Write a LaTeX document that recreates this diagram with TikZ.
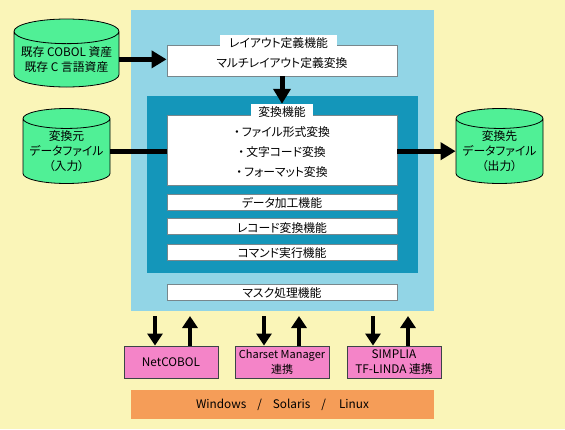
\documentclass[tikz,border=0pt]{standalone}
\usepackage{fontspec}
\setmainfont[RawFeature=+palt]{Noto Sans CJK JP}
\usepackage{tikz}
\usepackage{xcolor}
\usetikzlibrary{arrows.meta,positioning,calc,shapes.geometric}
\definecolor{bgyellow}{RGB}{250,245,184}
\definecolor{outerblue}{RGB}{146,213,230}
\definecolor{innerblue}{RGB}{20,150,186}
\definecolor{cylgreen}{RGB}{80,240,150}
\definecolor{boxpink}{RGB}{244,132,200}
\definecolor{baseorange}{RGB}{245,157,88}
\definecolor{boxedge}{RGB}{120,135,140}
\tikzset{
  txt/.style={font=\fontsize{11.8}{19.6}\selectfont,inner sep=0pt,align=center},
  funcbox/.style={txt,draw=boxedge,line width=0.9pt,fill=white,minimum width=230pt},
  onerow/.style={text height=11pt,text depth=0pt},
  titletag/.style={txt,fill=white},
  datacyl/.style={txt,cylinder,shape border rotate=90,draw=black,line width=0.8pt,fill=cylgreen,aspect=0.27,anchor=shape center},
  pinkbox/.style={txt,draw=boxedge!50!black,line width=0.9pt,fill=boxpink,minimum width=94pt,minimum height=32pt},
  bigarrow/.style={line width=5pt,-{Triangle[length=15pt,width=17pt]}},
  bigline/.style={line width=5pt},
  linkarrow/.style={line width=4pt,-{Triangle[length=12pt,width=15pt]}}
}
\begin{document}
\begin{tikzpicture}[x=1pt,y=-1pt]
\useasboundingbox (0,0) rectangle (565,429);
\fill[bgyellow] (0,0) rectangle (565,429);
\node[fill=outerblue,minimum width=303pt,minimum height=301pt,inner sep=0pt] (outer) at (282.5,160.5) {};
\node[fill=innerblue,minimum width=271pt,minimum height=177pt,inner sep=0pt] (inner) at (282.5,184.5) {};
% upper boxes
\node[funcbox,minimum height=31pt,text height=14pt,text depth=0pt] (layout) at (282,60.5) {マルチレイアウト定義変換};
\node[titletag,minimum width=117pt,minimum height=16pt] (layouttitle) at (278.5,43) {レイアウト定義機能};
\node[funcbox,minimum height=70pt] (convert) at (282,150) {\rule{0pt}{14pt}・\hspace{2pt}ファイル形式変換\\・\hspace{2pt}文字コード変換\\・\hspace{2pt}フォーマット変換};
\node[titletag,minimum width=62pt,minimum height=16pt] (converttitle) at (282,112) {変換機能};
\node[funcbox,onerow,minimum height=16pt] (dataproc) at (282,202) {データ加工機能};
\node[funcbox,onerow,minimum height=16pt] (record) at (282,226.5) {レコード変換機能};
\node[funcbox,onerow,minimum height=16pt] (command) at (282,252) {コマンド実行機能};
\node[funcbox,onerow,minimum height=16pt] (mask) at (282,292) {マスク処理機能};
% data stores
\node[datacyl,minimum width=105pt,minimum height=68pt] (legacy) at (66.5,53) {既存 COBOL 資産\\[-5pt]既存 C 言語資産};
\node[datacyl,minimum width=87pt,minimum height=75pt] (source) at (66.5,146) {変換元\\[-5pt]データファイル\\[-5pt]（入力）};
\node[datacyl,minimum width=87pt,minimum height=75pt] (target) at (499.5,146) {変換先\\[-5pt]データファイル\\[-5pt]（出力）};
% linked products
\node[pinkbox] (netcobol) at (171,362) {NetCOBOL};
\node[pinkbox,font=\fontsize{11}{19.6}\selectfont] (charset) at (282,362) {Charset Manager\\[-5pt]連携};
\node[pinkbox] (simplia) at (394,362) {SIMPLIA\\[-5pt]TF-LINDA 連携};
\node[txt,fill=baseorange,minimum width=303pt,minimum height=29pt] (base) at (282.5,404.5) {Windows\hspace{11pt}/\hspace{11pt}Solaris\hspace{11pt}/\hspace{13pt}Linux};
% arrows
\draw[bigarrow] (legacy.east) -- (legacy.east -| layout.west);
\draw[bigarrow] (layout.south -| converttitle.north) -- (converttitle.north);
\draw[bigline] (source.east) -- (source.east -| convert.west);
\draw[bigarrow] (target.west -| convert.east) -- (target.west);
\coordinate (neta) at (155,316);
\coordinate (netb) at (190,316);
\coordinate (chara) at (264,316);
\coordinate (charb) at (299,316);
\coordinate (sima) at (373,316);
\coordinate (simb) at (408,316);
\draw[linkarrow] (neta) -- (neta |- netcobol.north);
\draw[linkarrow] (netb |- netcobol.north) -- (netb);
\draw[linkarrow] (chara) -- (chara |- charset.north);
\draw[linkarrow] (charb |- charset.north) -- (charb);
\draw[linkarrow] (sima) -- (sima |- simplia.north);
\draw[linkarrow] (simb |- simplia.north) -- (simb);
\end{tikzpicture}
\end{document}
